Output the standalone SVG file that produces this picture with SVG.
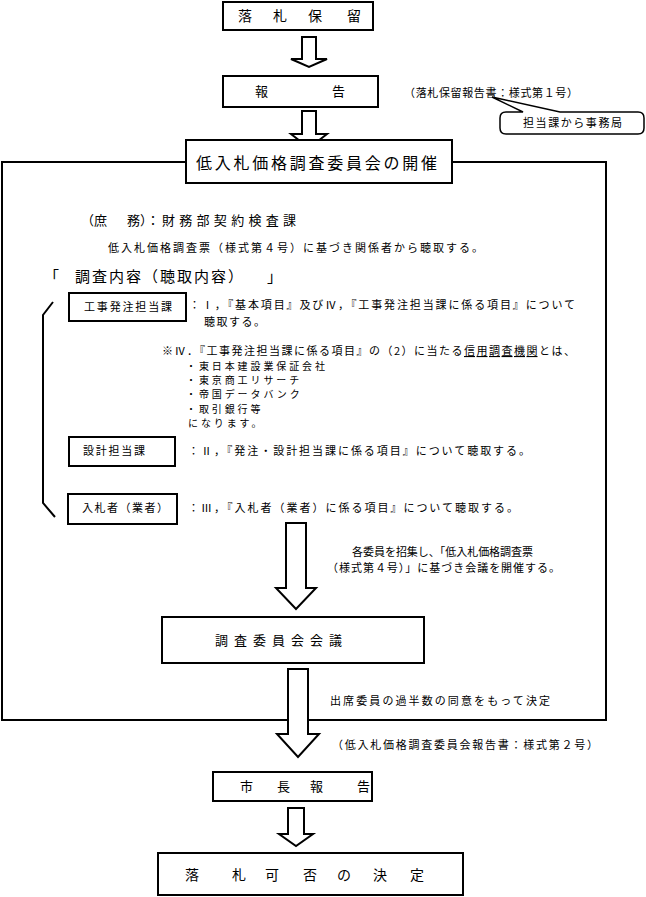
<svg xmlns="http://www.w3.org/2000/svg" width="646" height="897" viewBox="0 0 646 897">
<style>
.t{font-family:"Noto Sans CJK JP","Noto Sans CJK SC",sans-serif;font-size:11px;fill:#000}
.ls{font-size:10px;letter-spacing:2.9px}
.b{fill:#fff;stroke:#000;stroke-width:2}
.ar{fill:#fff;stroke:#000;stroke-width:2;stroke-linejoin:miter}
.ln{fill:none;stroke:#000;stroke-width:2}
</style>
<rect width="646" height="897" fill="#fff"/>
<g id="connectors">
<rect id="frame" class="ln" x="2" y="162" width="604" height="558"/>
<path class="ar" d="M302,37 H316 V59 H327 L309,67 L291,59 H302 Z"/>
<path class="ar" d="M302,111 H316 V134 H327 L309,148 L291,134 H302 Z"/>
<path class="ar" d="M286,523 H306 V588 H316 L296,609 L276,588 H286 Z"/>
<path class="ar" d="M288,669 H308 V734 H319 L298,757 L277,734 H288 Z"/>
<path class="ar" d="M288,808 H304 V834 H313 L296,846 L279,834 H288 Z"/>
<path class="ln" d="M53,302 L43,315 V503 L55,517"/>
</g>
<g id="n-rakusatsu-horyu">
<rect class="b" x="223" y="2" width="150" height="28"/>
<text class="t" style="font-size:14px" x="238 273 308 347" y="21">落札保留</text>
</g>
<g id="n-hokoku">
<rect class="b" x="223" y="76" width="155" height="31"/>
<text class="t" style="font-size:13px" x="255 332" y="96">報告</text>
</g>
<g id="n-note1">
<text class="t" x="404" y="97" textLength="174" lengthAdjust="spacing">（落札保留報告書：様式第１号）</text>
</g>
<g id="n-callout">
<path fill="#fff" stroke="#000" stroke-width="1.5" d="M506,112 H523 L492,97 L560,112 H638 Q644,112 644,118 V128 Q644,134 638,134 H506 Q500,134 500,128 V118 Q500,112 506,112 Z"/>
<text class="t" x="523" y="127" textLength="99" lengthAdjust="spacing">担当課から事務局</text>
</g>
<g id="n-kaisai">
<rect class="b" x="186" y="140" width="266" height="43"/>
<text class="t" style="font-size:16px" x="196" y="169" textLength="241" lengthAdjust="spacing">低入札価格調査委員会の開催</text>
</g>
<g id="n-shomu">
<text class="t" style="font-size:13px" x="81" y="225">（庶</text>
<text class="t" style="font-size:13px" x="127" y="225">務）：</text>
<text class="t" style="font-size:13px" x="162" y="225" textLength="134" lengthAdjust="spacing">財務部契約検査課</text>
</g>
<g id="n-chosahyo">
<text class="t" x="108" y="252" textLength="375" lengthAdjust="spacing">低入札価格調査票（様式第４号）に基づき関係者から聴取する。</text>
</g>
<g id="n-naiyo">
<text class="t" style="font-size:15px" x="44" y="282">「</text>
<text class="t" style="font-size:15px" x="75" y="282" textLength="168" lengthAdjust="spacing">調査内容（聴取内容）</text>
<text class="t" style="font-size:15px" x="267" y="282">」</text>
</g>
<g id="n-koji">
<rect class="b" x="69" y="293" width="117" height="28"/>
<text class="t" x="84" y="311" textLength="88" lengthAdjust="spacing">工事発注担当課</text>
<text class="t" x="189" y="309" textLength="386" lengthAdjust="spacing">：Ⅰ，『基本項目』及びⅣ，『工事発注担当課に係る項目』について</text>
<text class="t" x="204" y="326" textLength="61" lengthAdjust="spacing">聴取する。</text>
</g>
<g id="n-shinyo">
<text class="t" x="162" y="355" textLength="413" lengthAdjust="spacing">※Ⅳ．『工事発注担当課に係る項目』の（2）に当たる<tspan text-decoration="underline">信用調査機関</tspan>とは、</text>
<text class="t ls" x="186" y="370">・東日本建設業保証会社</text>
<text class="t ls" x="186" y="384">・東京商工リサーチ</text>
<text class="t ls" x="186" y="398">・帝国データバンク</text>
<text class="t ls" x="186" y="413">・取引銀行等</text>
<text class="t ls" x="188" y="427">になります。</text>
</g>
<g id="n-sekkei">
<rect class="b" x="69" y="437" width="106" height="29"/>
<text class="t" x="83" y="455" textLength="62" lengthAdjust="spacing">設計担当課</text>
<text class="t" x="188" y="455" textLength="342" lengthAdjust="spacing">：Ⅱ，『発注・設計担当課に係る項目』について聴取する。</text>
</g>
<g id="n-nyusatsusha">
<rect class="b" x="68" y="494" width="109" height="30"/>
<text class="t" x="82" y="512" textLength="86" lengthAdjust="spacing">入札者（業者）</text>
<text class="t" x="188" y="512" textLength="330" lengthAdjust="spacing">：Ⅲ，『入札者（業者）に係る項目』について聴取する。</text>
</g>
<g id="n-shoshu">
<text class="t" x="352" y="556" textLength="181" lengthAdjust="spacing">各委員を招集し、「低入札価格調査票</text>
<text class="t" x="327" y="572" textLength="233" lengthAdjust="spacing">（様式第４号）」に基づき会議を開催する。</text>
</g>
<g id="n-kaigi">
<rect class="b" x="162" y="617" width="262" height="46"/>
<text class="t" style="font-size:13px" x="215" y="645" textLength="127" lengthAdjust="spacing">調査委員会会議</text>
</g>
<g id="n-kettei-note">
<text class="t" x="330" y="705" textLength="220" lengthAdjust="spacing">出席委員の過半数の同意をもって決定</text>
</g>
<g id="n-note2">
<text class="t" x="332" y="749" textLength="266" lengthAdjust="spacing">（低入札価格調査委員会報告書：様式第２号）</text>
</g>
<g id="n-shicho">
<rect class="b" x="213" y="772" width="159" height="29"/>
<text class="t" style="font-size:13px" x="240 277 310 357" y="791">市長報告</text>
</g>
<g id="n-kahi">
<rect class="b" x="158" y="853" width="305" height="42"/>
<text class="t" style="font-size:14px" x="185 232 265 303 337 373 410" y="880">落札可否の決定</text>
</g>
</svg>
